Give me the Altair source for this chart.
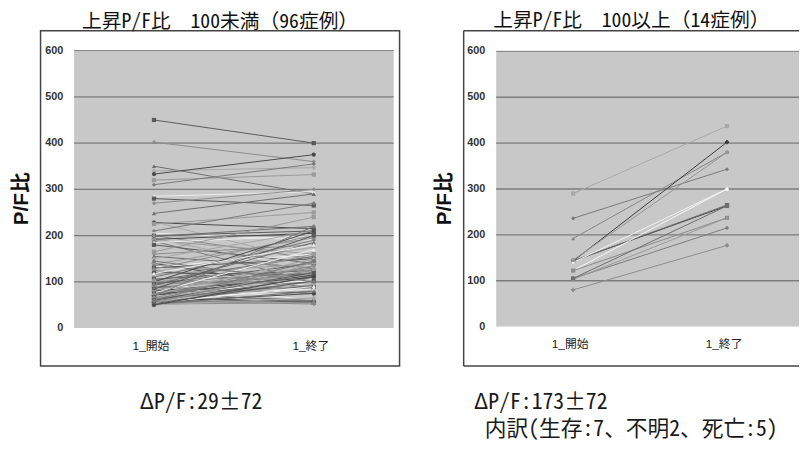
import altair as alt
import pandas as pd

categories = ["1_開始", "1_終了"]

left_start = [450, 402, 350, 340, 333, 320, 310, 285, 280, 270, 248, 230, 228, 225, 210, 205,
              200, 200, 198, 195, 192, 190, 188, 185, 180, 160, 155, 150, 140, 138, 135, 132,
              130, 128, 125, 122, 120, 115, 110, 108, 106, 105, 103, 102, 100, 100, 98, 97,
              95, 94, 92, 90, 90, 88, 87, 85, 84, 83, 82, 80, 80, 78, 77, 76,
              75, 74, 73, 72, 71, 70, 69, 68, 67, 66, 65, 64, 63, 62, 61, 60,
              60, 59, 58, 57, 56, 55, 55, 54, 53, 52, 51, 50, 50, 165, 145, 118]
left_end = [400, 360, 290, 347, 375, 332, 355, 295, 265, 300, 290, 143, 215, 250, 270, 190,
            210, 150, 220, 120, 205, 160, 100, 200, 140, 180, 130, 210, 85, 195, 110, 160,
            150, 200, 90, 175, 115, 140, 190, 100, 125, 85, 155, 130, 210, 95, 120, 60,
            140, 110, 185, 105, 75, 160, 118, 95, 200, 130, 88, 140, 110, 55, 100, 170,
            90, 125, 60, 150, 115, 80, 220, 105, 55, 135, 92, 118, 58, 100, 145, 85,
            120, 52, 110, 95, 75, 128, 60, 90, 102, 55, 80, 65, 112, 240, 100, 180]

right_start = [290, 236, 192, 143, 143, 143, 140, 122, 122, 105, 103, 80, 145, 105]
right_end = [437, 343, 380, 402, 263, 265, 300, 300, 237, 215, 237, 177, 380, 263]

y_ticks = [0, 100, 200, 300, 400, 500, 600]
grid_values = [100, 200, 300, 400, 500, 600]

titles = ["上昇P/F比\u3000100未満（96症例）", "上昇P/F比\u3000100以上（14症例）"]
y_title = "P/F比"
note_left = ["ΔP/F:29±72"]
note_right = ["ΔP/F:173±72", "\u200b\u00a0内訳(生存:7、不明2、死亡:5)"]

left_grays = ["#5a5a5a", "#8c8c8c", "#6e6e6e", "#a8a8a8", "#4a4a4a", "#9a9a9a", "#7a7a7a", "#eeeeee"]
right_grays = ["#a8a8a8", "#7a7a7a", "#858585", "#3a3a3a", "#444444", "#6a6a6a", "#f2f2f2",
               "#f8f8f8", "#8a8a8a", "#7c7c7c", "#9a9a9a", "#8c8c8c", "#959595", "#6e6e6e"]
shapes = ["square", "diamond", "triangle-up", "cross", "circle", "square", "diamond", "triangle-up"]

CJK = "Noto Sans Mono CJK JP, Noto Sans CJK JP"
NARROW = "Liberation Sans Narrow, Arial Narrow, Liberation Sans"


def panel(start, end, xdom, ydom, width, title, note, note_x, boxed, grays):
    xmin, xmax = xdom
    ymin, ymax = ydom
    gray_right = min(2.5, xmax)
    rows = []
    for i, (a, b) in enumerate(zip(start, end)):
        rows.append({"pid": i, "pos": 1, "value": a})
        rows.append({"pid": i, "pos": 2, "value": b})
    df = pd.DataFrame(rows)

    xs = alt.Scale(domain=[xmin, xmax], nice=False, zero=False)
    ys = alt.Scale(domain=[ymin, ymax], nice=False, zero=False)
    xa = alt.Axis(title=note, labels=False, ticks=False, domain=False, grid=False,
                  titleX=note_x, titleY=43, titleAlign="left", titleBaseline="alphabetic",
                  titleAngle=0, titleFont=CJK, titleFontSize=22, titleFontWeight="normal",
                  titleColor="#1a1a1a", titleLineHeight=27)
    ya = alt.Axis(title=y_title, labels=False, ticks=False, domain=False, grid=False,
                  titleFont="Liberation Sans, Noto Sans CJK JP", titleFontSize=21,
                  titleFontWeight="bold", titlePadding=9, titleColor="#111111")

    def X(f="pos"):
        return alt.X(f + ":Q", scale=xs, axis=xa)

    def Y(f="value"):
        return alt.Y(f + ":Q", scale=ys, axis=ya)

    bg = alt.Chart(pd.DataFrame([{"pos": 0.5, "pos2": gray_right, "value": 0, "value2": 600}])).mark_rect(
        color="#c8c8c8").encode(x=X(), x2="pos2:Q", y=Y(), y2="value2:Q")

    grid = alt.Chart(pd.DataFrame({"value": grid_values, "pos": [0.5] * len(grid_values),
                                   "pos2": [gray_right] * len(grid_values),
                                   "w": [1.4 if v < 600 else 1.0 for v in grid_values]})).mark_rule(
        color="#7c7c7c").encode(x=X(), x2="pos2:Q", y=Y(), strokeWidth=alt.StrokeWidth("w:Q", scale=None))

    ticks = alt.Chart(pd.DataFrame({"value": y_ticks, "pos": [0.5] * len(y_ticks),
                                    "label": [str(v) for v in y_ticks]})).mark_text(
        align="right", baseline="middle", dx=-11, font=NARROW, fontSize=11, fontWeight="bold",
        color="#333333").encode(x=X(), y=Y(), text="label:N")

    cats = alt.Chart(pd.DataFrame({"pos": [1, 2], "value": [-39, -39], "label": categories})).mark_text(
        align="center", baseline="middle", dx=-3, font=NARROW + ", Noto Sans CJK JP", fontSize=12,
        color="#222222").encode(x=X(), y=Y(), text="label:N")

    color = alt.Color("pid:N", scale=alt.Scale(range=grays), legend=None)
    lines = alt.Chart(df).mark_line(strokeWidth=1).encode(
        x=X(), y=Y(), detail="pid:N", color=color)
    pts = alt.Chart(df).mark_point(filled=True, size=18, opacity=1).encode(
        x=X(), y=Y(), color=color,
        shape=alt.Shape("pid:N", scale=alt.Scale(range=shapes), legend=None))

    layers = [bg, grid, lines, pts, ticks, cats]
    if boxed:
        view = alt.ViewBackground(stroke="#444444", strokeWidth=1.5, fill="white")
    else:
        view = alt.ViewBackground(strokeOpacity=0, fill="white")
        border = alt.Chart(pd.DataFrame([
            {"pos": xmin, "pos2": xmax, "value": ymax, "value2": ymax},
            {"pos": xmin, "pos2": xmin, "value": ymin, "value2": ymax},
            {"pos": xmin, "pos2": xmax, "value": ymin, "value2": ymin},
        ])).mark_rule(color="#444444", strokeWidth=1.5).encode(
            x=X(), x2="pos2:Q", y=Y(), y2="value2:Q")
        layers.append(border)

    return alt.layer(*layers).properties(
        width=width, height=340, view=view,
        title=alt.TitleParams(text=title, font=CJK, fontSize=20, fontWeight="normal",
                              color="#111111", anchor="middle", offset=-1),
    ).resolve_scale(color="independent")


left = panel(left_start, left_end, (0.29, 2.537), (-82, 643), 364, titles[0], note_left, 100, True, left_grays)
right = panel(right_start, right_end, (0.2885, 2.468), (-86, 645), 340, titles[1], note_right, 10, False, right_grays)

chart = alt.hconcat(left, right, spacing=34).properties(
    padding={"left": 2, "top": 0, "right": 0, "bottom": 0},
    background="white",
).resolve_scale(color="independent", shape="independent")

chart.save("out.html", embed_options={"renderer": "svg", "actions": False})
